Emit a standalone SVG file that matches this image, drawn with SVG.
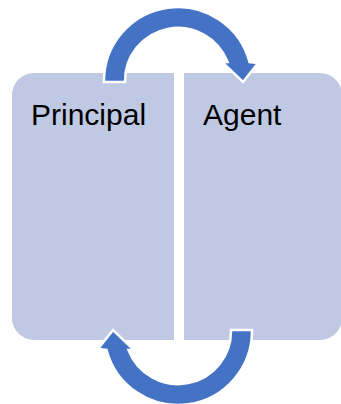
<svg xmlns="http://www.w3.org/2000/svg" xmlns:xlink="http://www.w3.org/1999/xlink" width="341" height="404" viewBox="0 0 341 404">
  <style>
    .box { fill: #BFC9E3; }
    .label { font-family: "Liberation Sans", Arial, sans-serif; font-size: 30px; fill: #000000; }
    .arrow { fill: #4472C4; stroke: #FFFFFF; stroke-width: 2.5; stroke-linejoin: miter; }
  </style>
  <defs>
    <path id="circArrow" d="M 104,82 A 74 74 0 0 1 249.5,62 L 258,63 L 243,82 L 222,62 L 227.5,62 A 53 53 0 0 0 125,82 Z"/>
  </defs>
  <rect width="341" height="404" fill="#FFFFFF"/>
  <g id="principal">
    <path class="box" d="M 174,73 L 174,340 L 34,340 A 22 22 0 0 1 12,318 L 12,95 A 22 22 0 0 1 34,73 Z"/>
    <text class="label" x="31" y="125">Principal</text>
  </g>
  <g id="agent">
    <path class="box" d="M 184,73 L 320,73 A 22 22 0 0 1 342,95 L 342,318 A 22 22 0 0 1 320,340 L 184,340 Z"/>
    <text class="label" x="203" y="125">Agent</text>
  </g>
  <g id="connectors">
    <use xlink:href="#circArrow" class="arrow"/>
    <use xlink:href="#circArrow" class="arrow" transform="rotate(180 178 206)"/>
  </g>
</svg>
